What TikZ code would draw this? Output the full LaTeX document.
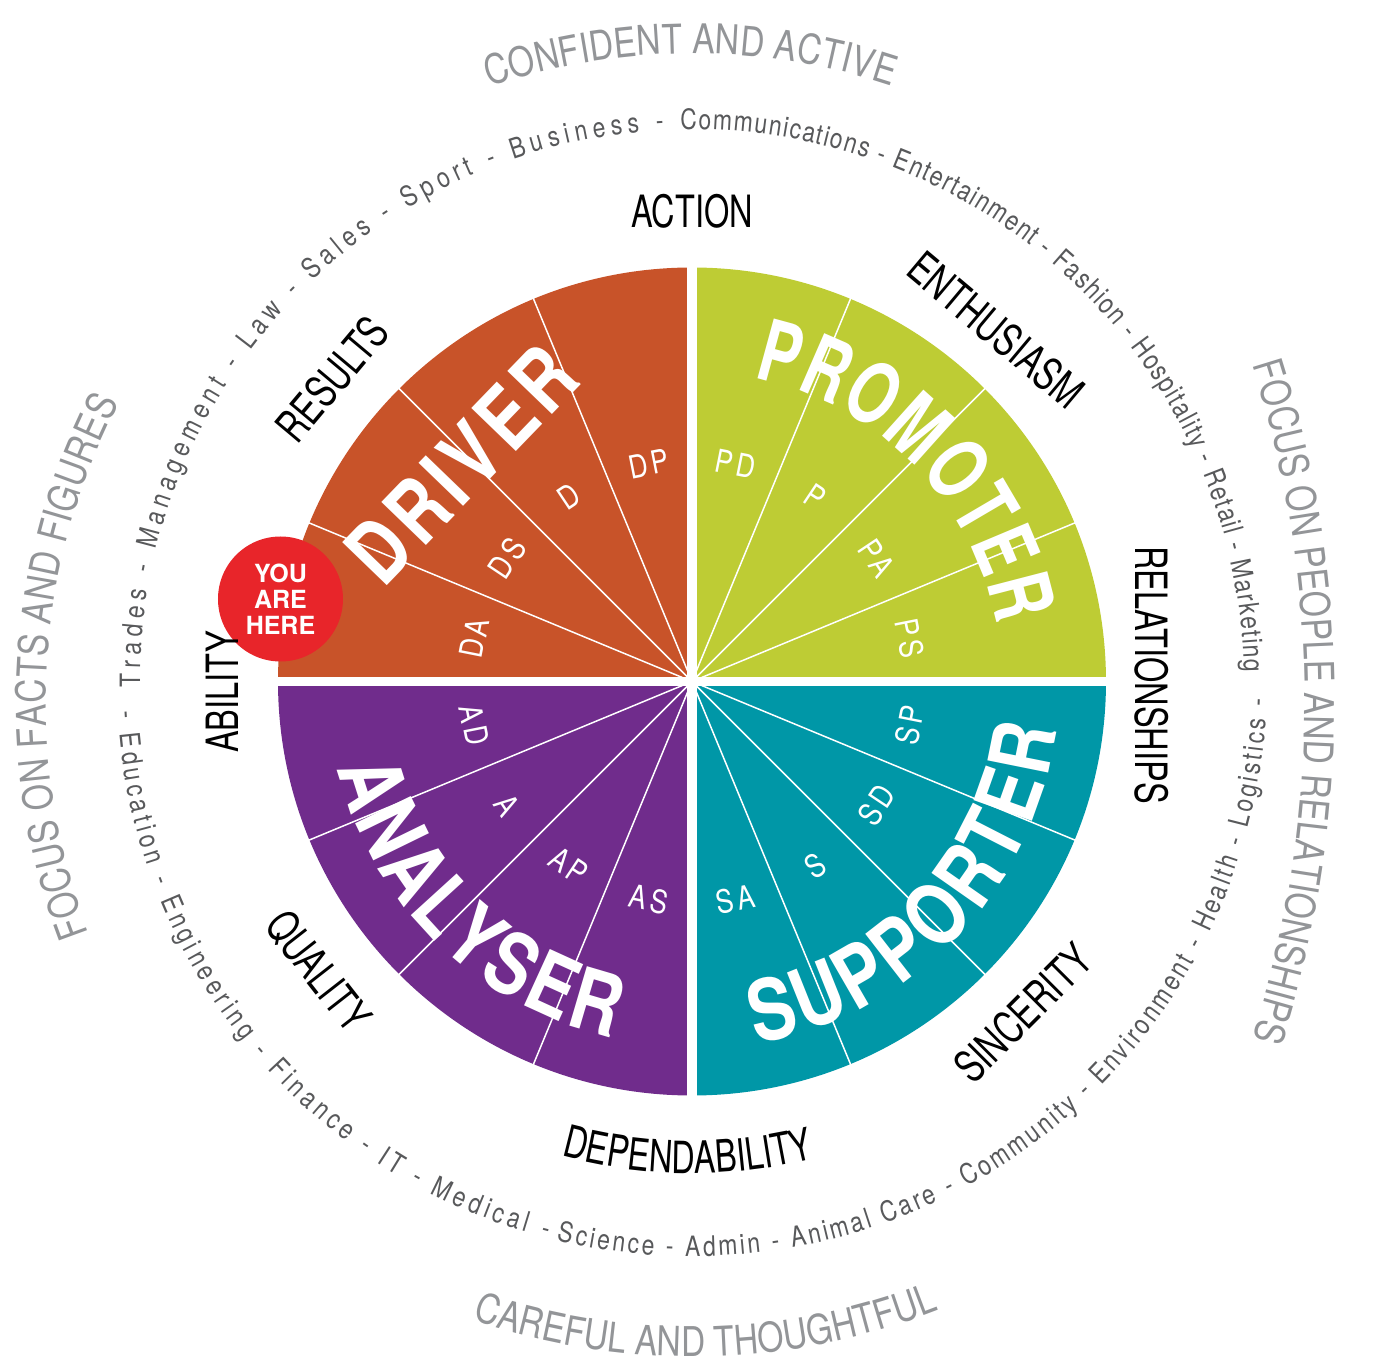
\documentclass[tikz,border=0pt]{standalone}
\usepackage{fontspec}
\usepackage{tikz}
\usetikzlibrary{decorations.text}

\setmainfont{TeX Gyre Heros}[FakeStretch=0.82]
\newfontfamily\traitfont{TeX Gyre Heros}[FakeStretch=0.73]
\newfontfamily\tightfont{TeX Gyre Heros}[FakeStretch=0.72]
\newfontfamily\slicefont{TeX Gyre Heros}[FakeStretch=0.82,LetterSpace=12]
\newfontfamily\herefont{TeX Gyre Heros}

\definecolor{driver}{HTML}{C85329}
\definecolor{promoter}{HTML}{BECC34}
\definecolor{supporter}{HTML}{0097A7}
\definecolor{analyser}{HTML}{702C8C}
\definecolor{here}{HTML}{E8252A}
\definecolor{moodgray}{HTML}{939598}
\definecolor{jobgray}{HTML}{58595B}

\newcommand{\moodfmt}{\fontsize{41}{41}\selectfont\color{moodgray}}
\newcommand{\jobfmt}{\fontsize{28}{28}\selectfont\color{jobgray}}
\newcommand{\namefmt}{\bfseries\fontsize{85}{85}\selectfont\color{white}}
\newcommand{\tightnamefmt}{\tightfont\bfseries\fontsize{85}{85}\selectfont\color{white}}
\newcommand{\traitfmt}{\traitfont\fontsize{44.5}{44.5}\selectfont}

\tikzset{
  alongarc/.style 2 args={decorate, decoration={text along path,
      text={|#1|#2}, text align=fit to path}},
  trait/.style={font=\traitfmt, inner sep=0pt},
  slicelabel/.style={font=\slicefont\fontsize{32}{32}\selectfont,
      text=white, inner sep=0pt}
}

\begin{document}
\begin{tikzpicture}[x=1pt, y=1pt]
  \useasboundingbox (-692,-680.5) rectangle (684,681.5);

  % the wheel
  \foreach \col/\a in {promoter/0, driver/90, analyser/180, supporter/270}
    \fill[\col] (0,0) -- (\a:414) arc[start angle=\a, delta angle=90, radius=414pt] -- cycle;
  \foreach \a in {22.5,45,...,337.5}
    \draw[white, line width=1.5pt] (0,0) -- (\a:416);
  \draw[white, line width=9.5pt] (-420,0) -- (420,0) (0,-420) -- (0,420);

  \foreach \lbl [count=\i] in {DP,D,DS,DA,AD,A,AP,AS,SA,S,SD,SP,PS,PA,P,PD} {
    \pgfmathsetmacro\ang{78.75+22.5*\i}
    \pgfmathsetmacro\rot{sin(\ang)>0 ? \ang-90 : \ang+90}
    \node[slicelabel, rotate=\rot] (slice-\lbl) at (\ang:222) {\lbl};
  }

  \path[alongarc={\tightnamefmt}{PROMOTER}] (78.5:310) arc[start angle=78.5, end angle=10.5, radius=310pt];
  \path[alongarc={\namefmt}{SUPPORTER}] (-80:368) arc[start angle=-80, end angle=-7.5, radius=368pt];
  \path[alongarc={\namefmt}{ANALYSER}] (193.7:365) arc[start angle=193.7, end angle=257.5, radius=365pt];
  \path[alongarc={\namefmt}{DRIVER}] (-308,92.4) -- (-108.7,298.8);

  \node[circle, fill=here, minimum size=125pt, inner sep=0pt, text=white, align=center,
    font=\herefont\bfseries\fontsize{25}{26}\selectfont] (here) at (-411.5,82.5) {YOU\\ARE\\HERE};

  % traits
  \node[trait] (action) at (0,470.5) {ACTION};
  \node[trait, rotate=-40] (enthusiasm) at (304,351.5) {ENTHUSIASM};
  \node[trait, rotate=-90] (relationships) at (460,6.5) {RELATIONSHIPS};
  \node[trait, rotate=45] (sincerity) at (331,-331.5) {SINCERITY};
  \node[trait, rotate=-52] (quality) at (-374,-290) {QUALITY};
  \node[trait, rotate=90] (ability) at (-470,-10.5) {ABILITY};
  \node[trait, rotate=50] (results) at (-360,302.5) {RESULTS};
  \path[decorate, decoration={text along path, text={|\traitfmt|DEPENDABILITY}, text align=center}]
    (239.5:492) arc[start angle=239.5, end angle=299.5, radius=492pt];

  % careers
  \path[alongarc={\jobfmt}{Trades - Management - Law - Sales - Sport - Business -}]
    (180.6:552) arc[start angle=180.6, end angle=93, radius=552pt];
  \path[alongarc={\jobfmt}{Communications - Entertainment - Fashion - Hospitality - Retail - Marketing}]
    (91.2:552) arc[start angle=91.2, end angle=1, radius=552pt];
  \path[alongarc={\jobfmt}{- Education - Engineering - Finance - IT - Medical -}]
    (183:575) arc[start angle=183, end angle=255.4, radius=575pt];
  \path[alongarc={\jobfmt}{Science - Admin - Animal Care - Community - Environment - Health - Logistics -}]
    (256.4:575) arc[start angle=256.4, end angle=358.2, radius=575pt];

  % outer ring
  \path[alongarc={\moodfmt}{CONFIDENT AND ACTIVE}] (108.8:628) arc[start angle=108.8, end angle=71.5, radius=628pt];
  \path[shift={(-500,-20)}, alongarc={\moodfmt}{FOCUS ON PEOPLE AND RELATIONSHIPS}]
    (17.6:1113) arc[start angle=17.6, end angle=-17.6, radius=1113pt];
  \path[alongarc={\moodfmt}{CAREFUL AND THOUGHTFUL}] (251:675) arc[start angle=251, end angle=291, radius=675pt];
  \path[shift={(0,-20)}, alongarc={\moodfmt}{FOCUS ON FACTS AND FIGURES}]
    (201:646) arc[start angle=201, end angle=152.5, radius=646pt];
\end{tikzpicture}
\end{document}
